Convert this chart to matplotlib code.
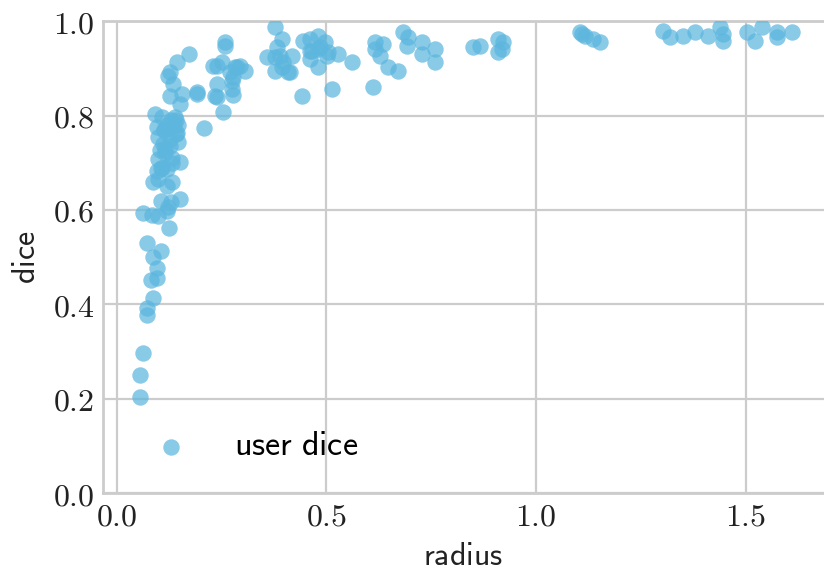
import matplotlib
matplotlib.use("Agg")
import matplotlib.pyplot as plt
from matplotlib.ticker import FormatStrFormatter

# values
radius = [
    0.055, 0.055, 0.062, 0.071, 0.071, 0.086, 0.081, 0.095, 0.095, 0.086,
    0.105, 0.071, 0.124, 0.062, 0.083, 0.098, 0.119, 0.105, 0.129, 0.150,
    0.122, 0.172, 0.143, 0.126, 0.122, 0.134, 0.126, 0.155, 0.191, 0.150,
    0.091, 0.107, 0.138, 0.095, 0.119, 0.143, 0.098, 0.146, 0.103, 0.126,
    0.098, 0.131, 0.150, 0.095, 0.119, 0.098, 0.131, 0.086, 0.112, 0.128,
    0.140, 0.115, 0.108, 0.136, 0.120, 0.110, 0.132, 0.112, 0.140, 0.115,
    0.130, 0.105, 0.145,
    0.191, 0.208, 0.253, 0.239, 0.277, 0.239, 0.274, 0.239, 0.251, 0.258,
    0.258, 0.286, 0.305, 0.277, 0.270, 0.294, 0.229, 0.282, 0.234, 0.274,
    0.377, 0.394, 0.358, 0.382, 0.377, 0.418, 0.377, 0.408, 0.394, 0.396,
    0.389, 0.413, 0.442, 0.444, 0.461, 0.480, 0.496, 0.461, 0.480, 0.461,
    0.480, 0.501, 0.527, 0.504, 0.561, 0.513, 0.484, 0.465,
    0.616, 0.616, 0.635, 0.628, 0.647, 0.671, 0.611, 0.683, 0.695, 0.692,
    0.728, 0.728, 0.759, 0.759, 0.850, 0.866, 0.909, 0.921, 0.919, 0.909,
    1.105, 1.117, 1.136, 1.153, 1.110,
    1.303, 1.320, 1.351, 1.379, 1.411, 1.439, 1.446, 1.446, 1.504, 1.523,
    1.539, 1.575, 1.575, 1.611,
]
dice = [
    0.204, 0.251, 0.297, 0.378, 0.393, 0.414, 0.452, 0.456, 0.478, 0.501,
    0.514, 0.529, 0.561, 0.594, 0.590, 0.588, 0.597, 0.618, 0.616, 0.624,
    0.607, 0.930, 0.913, 0.892, 0.883, 0.866, 0.841, 0.845, 0.849, 0.824,
    0.803, 0.796, 0.798, 0.775, 0.781, 0.764, 0.754, 0.743, 0.728, 0.735,
    0.707, 0.711, 0.701, 0.682, 0.686, 0.665, 0.660, 0.660, 0.770, 0.750,
    0.790, 0.720, 0.690, 0.780, 0.650, 0.740, 0.700, 0.770, 0.760, 0.730,
    0.790, 0.690, 0.780,
    0.845, 0.773, 0.807, 0.839, 0.843, 0.866, 0.856, 0.905, 0.913, 0.947,
    0.955, 0.902, 0.894, 0.881, 0.892, 0.905, 0.905, 0.904, 0.841, 0.873,
    0.987, 0.962, 0.924, 0.945, 0.924, 0.926, 0.894, 0.892, 0.904, 0.913,
    0.926, 0.892, 0.841, 0.958, 0.962, 0.968, 0.955, 0.936, 0.941, 0.919,
    0.904, 0.926, 0.930, 0.934, 0.913, 0.856, 0.945, 0.936,
    0.955, 0.941, 0.951, 0.926, 0.904, 0.894, 0.860, 0.977, 0.966, 0.947,
    0.955, 0.930, 0.941, 0.913, 0.945, 0.947, 0.962, 0.955, 0.941, 0.934,
    0.977, 0.968, 0.962, 0.955, 0.972,
    0.979, 0.966, 0.968, 0.977, 0.968, 0.987, 0.972, 0.958, 0.977, 0.958,
    0.987, 0.977, 0.966, 0.977,
]

plt.rcParams['mathtext.fontset'] = 'cm'
grey = '#cccccc'

fig = plt.figure(figsize=(8.24, 5.74), dpi=100)
ax = fig.add_axes([0.125, 0.141, 0.875, 0.822])

ax.scatter(radius, dice, s=140, color='#5cb6de', alpha=0.72, linewidths=0,
           label=r'$\mathsf{user\ dice}$', zorder=3)

ax.set_xlim(-0.033, 1.687)
ax.set_ylim(0, 1.0)
ax.set_xticks([0.0, 0.5, 1.0, 1.5])
ax.set_yticks([0.0, 0.2, 0.4, 0.6, 0.8, 1.0])
ax.xaxis.set_major_formatter(FormatStrFormatter('$%.1f$'))
ax.yaxis.set_major_formatter(FormatStrFormatter('$%.1f$'))
ax.tick_params(length=0, labelsize=23, colors='#222222', pad=6)

ax.grid(True, color=grey, linewidth=1.6)
ax.set_axisbelow(True)
for side in ['left', 'bottom', 'top']:
    ax.spines[side].set_color(grey)
    ax.spines[side].set_linewidth(2)
ax.spines['right'].set_visible(False)

ax.set_xlabel(r'$\mathsf{radius}$', fontsize=23, color='#222222', labelpad=6)
ax.set_ylabel(r'$\mathsf{dice}$', fontsize=23, color='#222222', labelpad=8)

ax.legend(loc='lower left', bbox_to_anchor=(0.005, 0.0), frameon=False,
          fontsize=24.5, handletextpad=0.85, scatterpoints=1)

fig.savefig('out.png', dpi=100)
